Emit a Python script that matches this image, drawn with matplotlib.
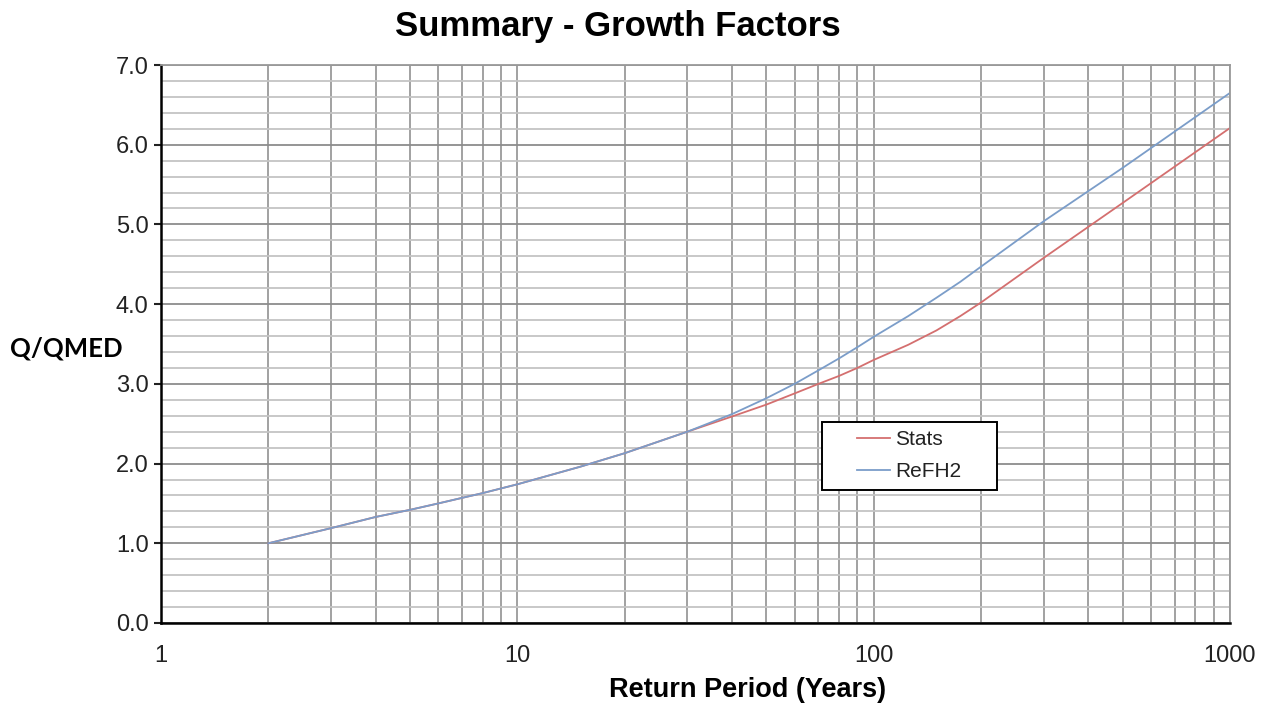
import matplotlib
matplotlib.use("Agg")
import matplotlib.pyplot as plt
from matplotlib.patches import Rectangle
from matplotlib.ticker import FixedLocator, MultipleLocator, FuncFormatter, NullFormatter

# Growth factor curves (Q/QMED) against return period (years)
return_period = [2, 3, 4, 5, 6, 7, 8, 10, 15, 20, 30, 40, 50, 60, 70, 80, 90,
                 100, 125, 150, 175, 200, 300, 500, 1000]
stats = [1.00, 1.19, 1.33, 1.42, 1.50, 1.57, 1.63, 1.74, 1.96, 2.13, 2.40, 2.59,
         2.74, 2.88, 3.00, 3.10, 3.20, 3.30, 3.49, 3.67, 3.85, 4.02, 4.58, 5.27,
         6.21]
refh2 = [1.00, 1.19, 1.33, 1.42, 1.50, 1.57, 1.63, 1.74, 1.96, 2.13, 2.40, 2.62,
         2.82, 3.00, 3.17, 3.32, 3.46, 3.59, 3.85, 4.08, 4.28, 4.47, 5.04, 5.71,
         6.65]

x_ticks = [1, 10, 100, 1000]
x_tick_labels = ["1", "10", "100", "1000"]

FONT = "Liberation Sans"

fig = plt.figure(figsize=(12.73, 7.09), dpi=100)
ax = fig.add_axes([0.1265, 0.1213, 0.8397, 0.787])

ax.set_xscale("log")
ax.set_xlim(1, 1000)
ax.set_ylim(0, 7)

# grid: every decade sub-division vertically, 0.2 steps horizontally
ax.xaxis.set_major_locator(FixedLocator(x_ticks))
ax.xaxis.set_major_formatter(
    FuncFormatter(lambda v, p: x_tick_labels[x_ticks.index(int(round(v)))]
                  if int(round(v)) in x_ticks else ""))
minor_x = [m * d for d in (1, 10, 100) for m in range(2, 10)]
ax.xaxis.set_minor_locator(FixedLocator(minor_x))
ax.xaxis.set_minor_formatter(NullFormatter())
ax.yaxis.set_major_locator(MultipleLocator(1.0))
ax.yaxis.set_minor_locator(MultipleLocator(0.2))
ax.yaxis.set_major_formatter(FuncFormatter(lambda v, p: f"{v:.1f}"))

ax.grid(which="both", axis="x", color="#9a9a9a", linewidth=1.3)
ax.grid(which="major", axis="y", color="#8c8c8c", linewidth=1.3)
ax.grid(which="minor", axis="y", color="#c4c4c4", linewidth=1.3)
ax.set_axisbelow(True)

ax.plot(return_period, stats, color="#d46f6f", linewidth=1.3, label="Stats")
ax.plot(return_period, refh2, color="#7b9dc9", linewidth=1.3, label="ReFH2")

for side in ("top", "right"):
    ax.spines[side].set_color("#9a9a9a")
    ax.spines[side].set_linewidth(1.3)
for side in ("left", "bottom"):
    ax.spines[side].set_color("black")
    ax.spines[side].set_linewidth(1.8)

ax.tick_params(axis="y", which="major", direction="out", length=5, width=1.5,
               labelsize=17, colors="#222222", pad=4)
ax.tick_params(axis="y", which="minor", length=0)
ax.tick_params(axis="x", which="both", length=0, labelsize=17, colors="#222222",
               pad=16)
for lbl in ax.get_xticklabels() + ax.get_yticklabels():
    lbl.set_family(FONT)

fig.text(0.485, 0.962, "Summary - Growth Factors", fontsize=25,
         fontweight="bold", family=FONT, ha="center", va="center")
fig.text(0.587, 1 - 690 / 709, "Return Period (Years)", fontsize=19.5,
         fontweight="bold", family=FONT, ha="center", va="center")
fig.text(0.008, 1 - 348 / 709, "Q/QMED", fontsize=18.5, fontweight="bold",
         family="Lato", ha="left", va="center")

# legend box with the entries set in from its left edge
ax.add_patch(Rectangle((0.618, 0.238), 0.164, 0.122, transform=ax.transAxes,
                       facecolor="white", edgecolor="black", linewidth=1.4,
                       zorder=5))
leg = ax.legend(loc="center left", bbox_to_anchor=(0.651, 0.300), fontsize=15,
                frameon=False, handlelength=1.6, handletextpad=0.25,
                borderpad=0, labelspacing=0.65, borderaxespad=0)
leg.set_zorder(6)
for t in leg.get_texts():
    t.set_family(FONT)
    t.set_color("#222222")

fig.savefig("out.png", dpi=100, facecolor="white")
